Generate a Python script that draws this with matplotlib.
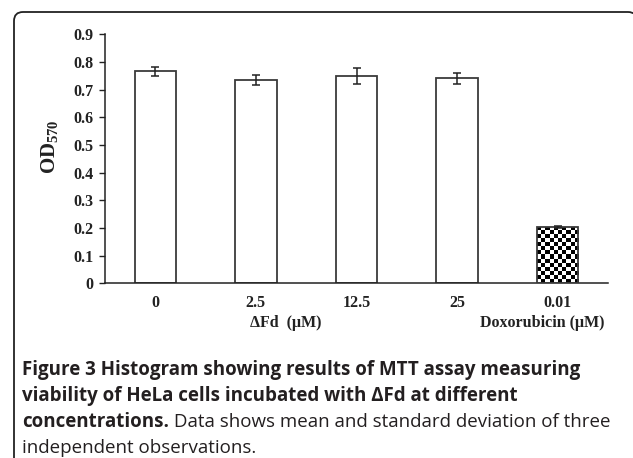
import matplotlib
matplotlib.use("Agg")
import matplotlib.pyplot as plt
import numpy as np
from matplotlib.patches import PathPatch
from matplotlib.path import Path
from matplotlib.transforms import Affine2D

plt.rcParams["mathtext.fontset"] = "custom"
plt.rcParams["mathtext.bf"] = "Liberation Serif:bold"
plt.rcParams["mathtext.rm"] = "Liberation Serif"
plt.rcParams["mathtext.it"] = "Liberation Serif:italic"

# ---- data ----
categories = ["0", "2.5", "12.5", "25", "0.01"]
means = [0.767, 0.734, 0.749, 0.741, 0.203]
errors = [0.016, 0.019, 0.028, 0.020, 0.003]
yticks = [0, 0.1, 0.2, 0.3, 0.4, 0.5, 0.6, 0.7, 0.8, 0.9]
ytick_labels = ["0", "0.1", "0.2", "0.3", "0.4", "0.5", "0.6", "0.7", "0.8", "0.9"]
group_labels = ["\u0394Fd  (\u03bcM)", "Doxorubicin (\u03bcM)"]
caption_bold_1 = "Figure 3 Histogram showing results of MTT assay measuring"
caption_bold_2 = "viability of HeLa cells incubated with \u0394Fd at different"
caption_bold_3 = "concentrations."
caption_reg_3 = " Data shows mean and standard deviation of three"
caption_reg_4 = "independent observations."

W, H = 633, 458
fig = plt.figure(figsize=(W / 100, H / 100), dpi=100)
fig.patch.set_facecolor("white")

def fx(px):
    return px / W

def fy(py):
    return 1 - py / H

# rounded frame: left side + top with rounded corners (pixel coords, y down)
r = 9
left, top, right, bottom = 14, 12, 637, 470
verts = [(left, bottom), (left, top + r), (left, top), (left + r, top),
         (right - r, top), (right, top), (right, top + r), (right, bottom)]
codes = [Path.MOVETO, Path.LINETO, Path.CURVE3, Path.CURVE3,
         Path.LINETO, Path.CURVE3, Path.CURVE3, Path.LINETO]
px2fig = Affine2D().scale(1, -1).translate(0, H).scale(1 / W, 1 / H) + fig.transFigure
frame = PathPatch(Path(verts, codes), transform=px2fig, fill=False,
                  edgecolor="#222222", linewidth=1.3)
fig.add_artist(frame)

ax = fig.add_axes([fx(105), fy(283.3), fx(608 - 105), (283.3 - 34.3) / H])
serif = "Liberation Serif"
fs = 11.5
x = np.arange(len(categories))
bars = ax.bar(x, means, width=0.41, color="white", edgecolor="#3a3a3a",
              linewidth=1.3, zorder=2)
ax.errorbar(x, means, yerr=errors, fmt="none", ecolor="#222222",
            elinewidth=1.1, capsize=2.9, capthick=1.1, zorder=3)

# checkerboard fill for the last bar
b = bars[-1]
nrows, ncols = 14, 10
checker = (np.indices((nrows, ncols)).sum(axis=0) % 2).astype(float)
im = ax.imshow(checker, cmap="gray", vmin=0, vmax=1, interpolation="nearest",
               extent=(b.get_x(), b.get_x() + b.get_width(), 0, b.get_height()),
               aspect="auto", zorder=2.5)
im.set_clip_path(b)
b.set_zorder(2.6)
b.set_facecolor("none")

ax.set_xlim(-0.5, 4.5)
ax.set_ylim(0, 0.9)
ax.set_yticks(yticks)
ax.set_yticklabels(ytick_labels, fontfamily=serif, fontweight="bold", fontsize=fs)
ax.set_xticks(x)
ax.set_xticklabels(categories, fontfamily=serif, fontweight="bold", fontsize=fs)
ax.tick_params(axis="y", direction="out", length=4, width=1, pad=4.5, colors="#222222")
ax.tick_params(axis="x", length=0, pad=8.5, colors="#222222")
for s in ["top", "right"]:
    ax.spines[s].set_visible(False)
for s in ["left", "bottom"]:
    ax.spines[s].set_color("#222222")
    ax.spines[s].set_linewidth(1.1)

fig.text(fx(49), fy(147), r"$\mathbf{OD}_{\mathbf{570}}$", rotation=90,
         ha="center", va="center", fontsize=15, color="#222222")

fig.text(fx(286), fy(323), group_labels[0], ha="center", va="center",
         fontsize=fs, fontfamily=serif, fontweight="bold", color="#222222")
fig.text(fx(542), fy(323), group_labels[1], ha="center", va="center",
         fontsize=fs, fontfamily=serif, fontweight="bold", color="#222222")

cap_font = "Open Sans"
cs = 13.5
cap_col = "#231f20"
fig.text(fx(22), fy(375), caption_bold_1, fontsize=cs, fontfamily=cap_font,
         fontweight="bold", color=cap_col, va="baseline")
fig.text(fx(22), fy(401), caption_bold_2, fontsize=cs, fontfamily=cap_font,
         fontweight="bold", color=cap_col, va="baseline")
t3 = fig.text(fx(22), fy(427), caption_bold_3, fontsize=cs, fontfamily=cap_font,
              fontweight="bold", color=cap_col, va="baseline")
fig.canvas.draw()
ext = t3.get_window_extent()
fig.text(ext.x1 / W, fy(427), caption_reg_3, fontsize=cs, fontfamily=cap_font,
         color=cap_col, va="baseline")
fig.text(fx(22), fy(453), caption_reg_4, fontsize=cs, fontfamily=cap_font,
         color=cap_col, va="baseline")

fig.savefig("out.png", dpi=100, facecolor="white")
